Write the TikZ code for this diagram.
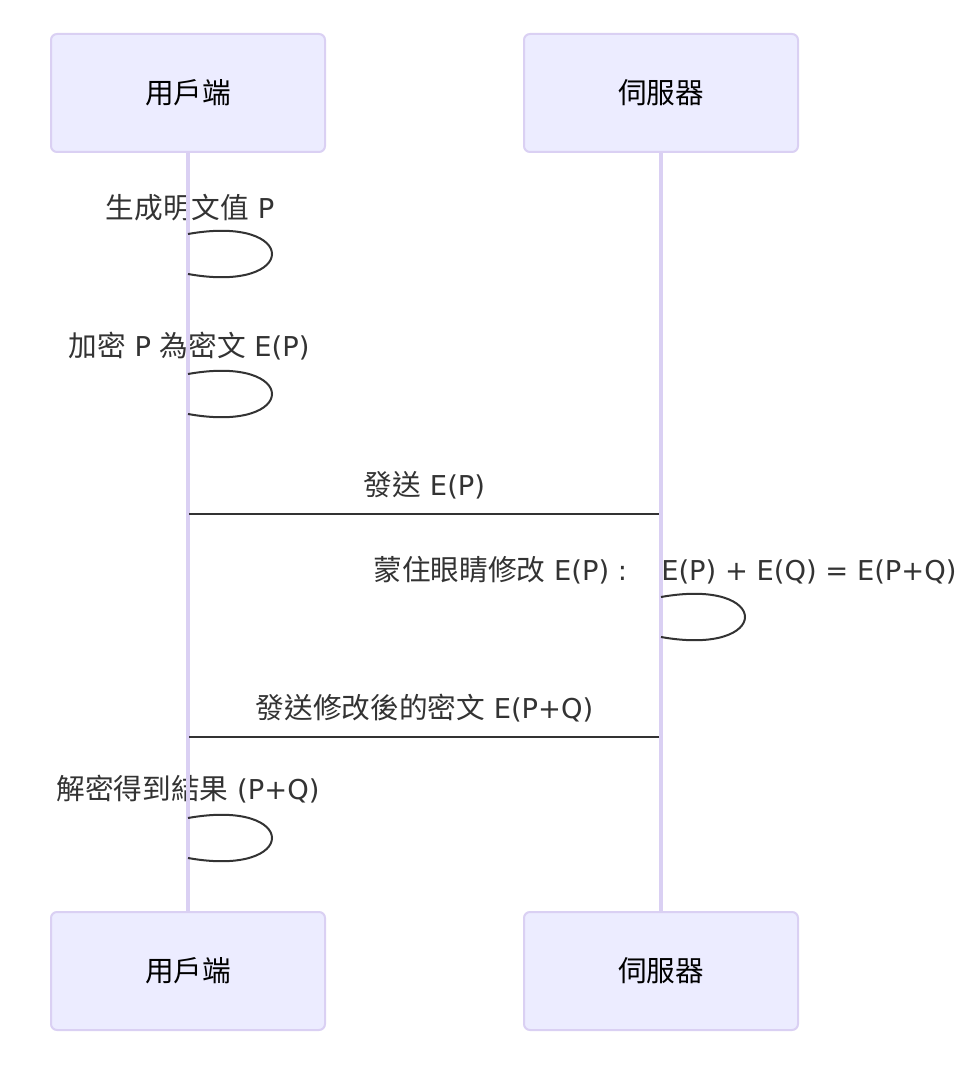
\documentclass[tikz,border=0pt]{standalone}
\usepackage{fontspec}
\setmainfont{DejaVu Sans}
\newfontfamily\zhfont{Noto Sans CJK TC}
\newcommand\zh[1]{{\zhfont\fontsize{21.5}{25}\selectfont #1}}
\begin{document}
\begin{tikzpicture}[x=0.75pt,y=-0.75pt,
  actorbox/.style={draw=actorline,fill=actorfill,line width=1.5pt,rounded corners=4.5pt,
    minimum width=205.5pt,minimum height=88.5pt,inner sep=0pt,font=\fontsize{20.5}{25}\selectfont,text=black},
  lifeline/.style={draw=actorline,line width=2.3pt},
  msgline/.style={draw=msgcol,line width=1.6pt},
  msglabel/.style={inner sep=0pt,text=msgcol,font=\fontsize{20.5}{25}\selectfont},
  loopline/.style={draw=msgcol,line width=1.5pt}]
\definecolor{actorfill}{HTML}{ECECFF}
\definecolor{actorline}{HTML}{DAD0F3}
\definecolor{msgcol}{HTML}{333333}
\useasboundingbox[fill=white] (0,0) rectangle (974,1070);
% actors
\node[actorbox] (ct) at (188,93) {\zh{用戶端}};
\node[actorbox] (st) at (661,93) {\zh{伺服器}};
\node[actorbox] (cb) at (188,971) {\zh{用戶端}};
\node[actorbox] (sb) at (661,971) {\zh{伺服器}};
% labels
\node[msglabel] (l1) at (190,208) {\zh{生成明文值} P};
\node[msglabel] (l2) at (189,346) {\zh{加密} P \zh{為密文} E(P)};
\node[msglabel] (l3) at (424.5,485) {\zh{發送} E(P)};
\node[msglabel] (l4) at (665,570) {\zh{蒙住眼睛修改} E(P) :\hspace{1.25em}E(P) + E(Q) = E(P+Q)};
\node[msglabel] (l5) at (424.5,708) {\zh{發送修改後的密文} E(P+Q)};
\node[msglabel] (l6) at (188,789) {\zh{解密得到結果} (P+Q)};
% lifelines
\draw[lifeline] (ct.south) -- (cb.north);
\draw[lifeline] (st.south) -- (sb.north);
% coordinates on lifelines
\coordinate (c1a) at (188,234); \coordinate (c1b) at (188,274);
\coordinate (c2a) at (188,374); \coordinate (c2b) at (188,414);
\coordinate (s3a) at (661,597); \coordinate (s3b) at (661,637);
\coordinate (c4a) at (188,818); \coordinate (c4b) at (188,858);
\coordinate (m1a) at (189,514); \coordinate (m1b) at (659,514);
\coordinate (m2a) at (659,737); \coordinate (m2b) at (189,737);
% self loops
\draw[loopline] (c1a) .. controls +(112,-20) and +(112,20) .. (c1b);
\draw[loopline] (c2a) .. controls +(112,-20) and +(112,20) .. (c2b);
\draw[loopline] (s3a) .. controls +(112,-20) and +(112,20) .. (s3b);
\draw[loopline] (c4a) .. controls +(112,-20) and +(112,20) .. (c4b);
% messages
\draw[msgline] (m1a) -- (m1b);
\draw[msgline] (m2a) -- (m2b);
\end{tikzpicture}
\end{document}
